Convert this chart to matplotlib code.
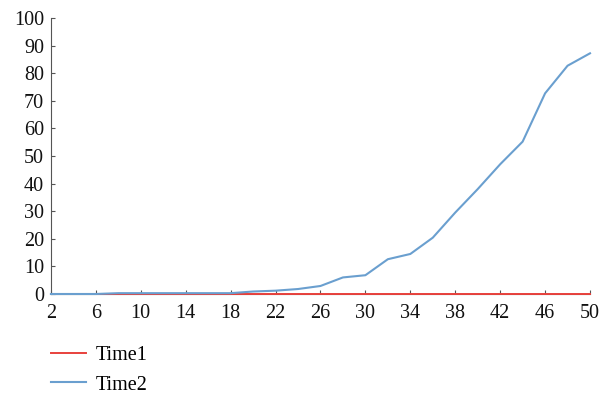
import matplotlib.pyplot as plt

plt.rcParams['font.family'] = ['Liberation Serif', 'DejaVu Serif']

steps = list(range(2, 51, 2))
time1 = [0] * len(steps)
time2 = [0, 0, 0, 0.3, 0.3, 0.3, 0.3, 0.3, 0.3, 0.9, 1.2, 1.8, 2.9, 6.0, 6.8,
         12.6, 14.5, 20.4, 29.5, 38.0, 47.0, 55.2, 72.7, 82.7, 87.2]
xticks = list(range(2, 51, 4))
yticks = list(range(0, 101, 10))

fig = plt.figure(figsize=(5.99, 3.96), dpi=100)
ax = fig.add_axes([0.085, 0.2576, 0.9, 0.697])

ax.plot(steps, time1, color='#e8413c', lw=1.4, label='Time1', zorder=4, clip_on=False)
ax.plot(steps, time2, color='#6a9fcf', lw=1.5, label='Time2', zorder=5, clip_on=False)

ax.set_xlim(2, 50)
ax.set_ylim(0, 100)
ax.set_xticks(xticks)
ax.set_yticks(yticks)

for side in ['top', 'right']:
    ax.spines[side].set_visible(False)
for side in ['left', 'bottom']:
    ax.spines[side].set_color('#555555')
    ax.spines[side].set_linewidth(0.8)
    ax.spines[side].set_zorder(1)
ax.tick_params(direction='in', length=3, width=0.8, color='#555555',
               labelsize=14.5, labelcolor='#111111')
ax.tick_params(axis='x', pad=7)
ax.tick_params(axis='y', pad=5)

fig.legend(loc='upper left', bbox_to_anchor=(0.068, 0.152), frameon=False,
           fontsize=14.5, handlelength=1.75, handletextpad=0.5,
           labelspacing=0.52, borderpad=0)

fig.savefig('out.png', dpi=100)
